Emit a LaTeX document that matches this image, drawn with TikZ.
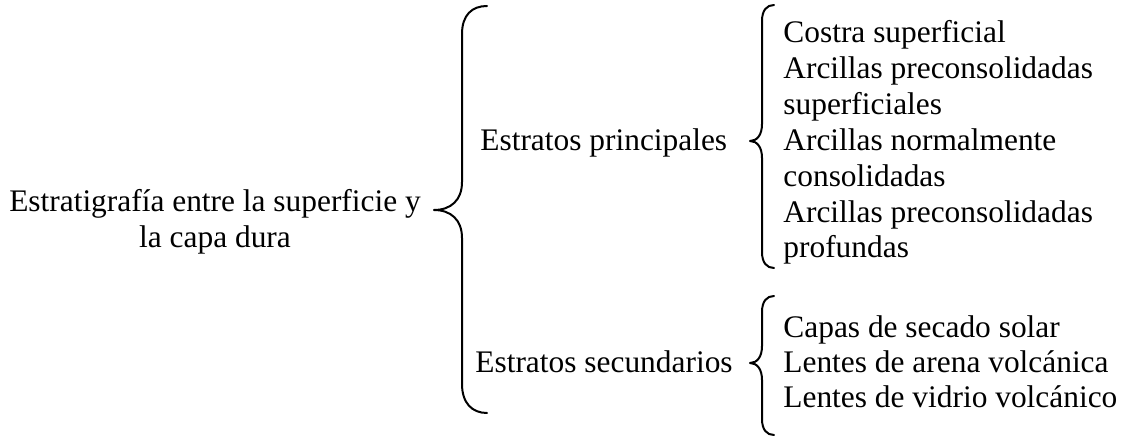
\documentclass[tikz,border=0pt]{standalone}
\usepackage{fontspec}
\setmainfont{Liberation Serif}
\begin{document}
\begin{tikzpicture}[x=0.5pt,y=-0.5pt,
  txt/.style={font=\fontsize{15.7pt}{17.85pt}\selectfont, inner sep=0pt},
  bracepath/.style={line width=1pt, line cap=round, line join=round}]
\useasboundingbox (0,0) rectangle (1128,438);
% root text
\node[txt, anchor=base] (root1) at (215,212) {Estratigrafía entre la superficie y};
\node[txt, anchor=base] (root2) at (215,247) {la capa dura};
% second level
\node[txt, anchor=base west] (prin) at (480,151) {Estratos principales};
\node[txt, anchor=base west] (sec) at (475,372) {Estratos secundarios};
% third level, principales
\node[txt, anchor=base west] (p1) at (783,43) {Costra superficial};
\node[txt, anchor=base west] (p2) at (783,78.8) {Arcillas preconsolidadas};
\node[txt, anchor=base west] (p3) at (783,114.6) {superficiales};
\node[txt, anchor=base west] (p4) at (783,150.4) {Arcillas normalmente};
\node[txt, anchor=base west] (p5) at (783,186.2) {consolidadas};
\node[txt, anchor=base west] (p6) at (783,222) {Arcillas preconsolidadas};
\node[txt, anchor=base west] (p7) at (783,257.8) {profundas};
% third level, secundarios
\node[txt, anchor=base west] (s1) at (783,337) {Capas de secado solar};
\node[txt, anchor=base west] (s2) at (783,372) {Lentes de arena volcánica};
\node[txt, anchor=base west] (s3) at (783,407) {Lentes de vidrio volcánico};
% braces
\draw[bracepath] (487,6) .. controls (472,6) and (462,15) .. (462,34) -- (462,182)
  .. controls (462,200) and (451,210) .. (434,210)
  .. controls (451,210) and (462,220) .. (462,238) -- (462,384)
  .. controls (462,403) and (472,413) .. (487,413);
\draw[bracepath] (774,5) .. controls (767,5) and (762,10) .. (762,21) -- (762,124)
  .. controls (762,135) and (757,141) .. (750,141)
  .. controls (757,141) and (762,147) .. (762,158) -- (762,252)
  .. controls (762,263) and (767,268) .. (774,268);
\draw[bracepath] (774,296) .. controls (767,296) and (762,301) .. (762,312) -- (762,346)
  .. controls (762,357) and (757,363) .. (750,363)
  .. controls (757,363) and (762,369) .. (762,380) -- (762,419)
  .. controls (762,430) and (767,435) .. (774,435);
\end{tikzpicture}
\end{document}
